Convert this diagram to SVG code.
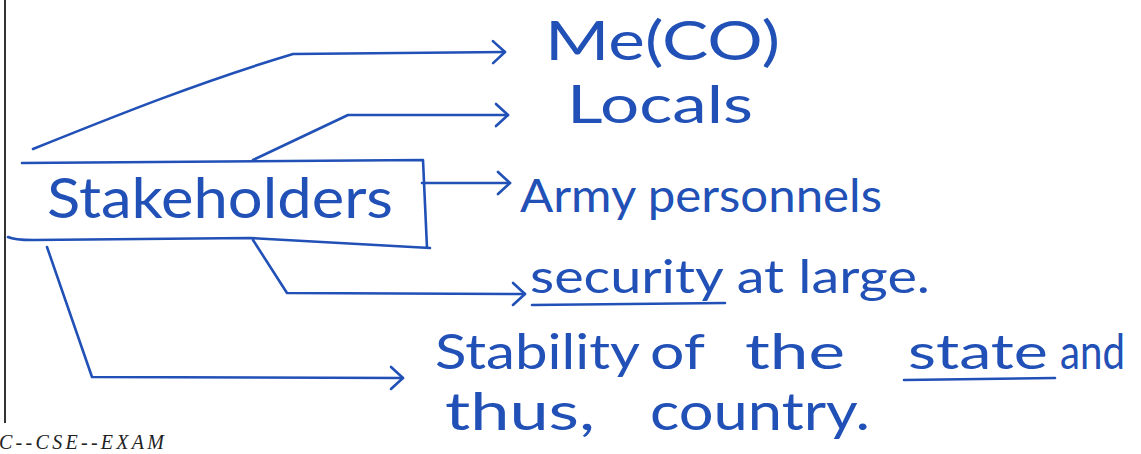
<svg xmlns="http://www.w3.org/2000/svg" width="1141" height="454" viewBox="0 0 1141 454">
  <style>
    .ink { fill: none; stroke: #2150b6; stroke-width: 2.6; stroke-linecap: round; stroke-linejoin: round; }
    .hw { font-family: "Lato", "Liberation Sans", sans-serif; fill: #2150b6; }
    .foot { font-family: "Liberation Serif", serif; font-style: italic; fill: #222; }
  </style>
  <defs>
    <marker id="chev" viewBox="0 0 16 28" markerWidth="16" markerHeight="28" refX="14" refY="14" orient="auto" markerUnits="userSpaceOnUse">
      <path d="M2,3 L14,14 L2,25" fill="none" stroke="#2150b6" stroke-width="2.6" stroke-linecap="round" stroke-linejoin="round"/>
    </marker>
  </defs>
  <rect width="1141" height="454" fill="#ffffff"/>
  <line x1="5" y1="0" x2="5" y2="423" stroke="#333" stroke-width="2"/>

  <g id="connectors">
    <path class="ink" d="M33,149 C120,114 200,82 293,54 L505,52" marker-end="url(#chev)"/>
    <path class="ink" d="M253,160 L348,115 L508,115" marker-end="url(#chev)"/>
    <path class="ink" d="M422,183 L510,183" marker-end="url(#chev)"/>
    <path class="ink" d="M253,240 L287,293 L525,294" marker-end="url(#chev)"/>
    <path class="ink" d="M47,247 L92,377 L403,378" marker-end="url(#chev)"/>
  </g>

  <g id="stakeholders">
    <path class="ink" d="M22,163 L423,160 L427,248 M8,237 Q14,240 33,240 L250,238 L430,248"/>
    <text class="hw" x="47" y="218" font-size="56" textLength="346" lengthAdjust="spacingAndGlyphs">Stakeholders</text>
  </g>

  <g id="meco">
    <text class="hw" x="545" y="60" font-size="54" textLength="235" lengthAdjust="spacingAndGlyphs">Me(CO)</text>
  </g>

  <g id="locals">
    <text class="hw" x="567" y="123" font-size="52" textLength="186" lengthAdjust="spacingAndGlyphs">Locals</text>
  </g>

  <g id="army">
    <text class="hw" x="520" y="212" font-size="46" textLength="362" lengthAdjust="spacingAndGlyphs">Army personnels</text>
  </g>

  <g id="security">
    <text class="hw" x="530" y="293" font-size="46" textLength="400" lengthAdjust="spacingAndGlyphs">security at large.</text>
    <path class="ink" d="M532,305 L725,303"/>
  </g>

  <g id="stability">
    <text class="hw" font-size="48" y="369"><tspan x="435" textLength="205" lengthAdjust="spacingAndGlyphs">Stability</tspan><tspan x="650" textLength="55" lengthAdjust="spacingAndGlyphs">of</tspan><tspan x="745" textLength="100" lengthAdjust="spacingAndGlyphs">the</tspan><tspan x="908" textLength="140" lengthAdjust="spacingAndGlyphs">state</tspan><tspan x="1060" textLength="65" lengthAdjust="spacingAndGlyphs">and</tspan></text>
    <path class="ink" d="M904,380 L1055,378"/>
    <text class="hw" font-size="52" y="430"><tspan x="445" textLength="150" lengthAdjust="spacingAndGlyphs">thus,</tspan><tspan x="650" textLength="220" lengthAdjust="spacingAndGlyphs">country.</tspan></text>
  </g>

  <text class="foot" x="-1" y="449" font-size="20" textLength="165" lengthAdjust="spacing">C--CSE--EXAM</text>
</svg>
